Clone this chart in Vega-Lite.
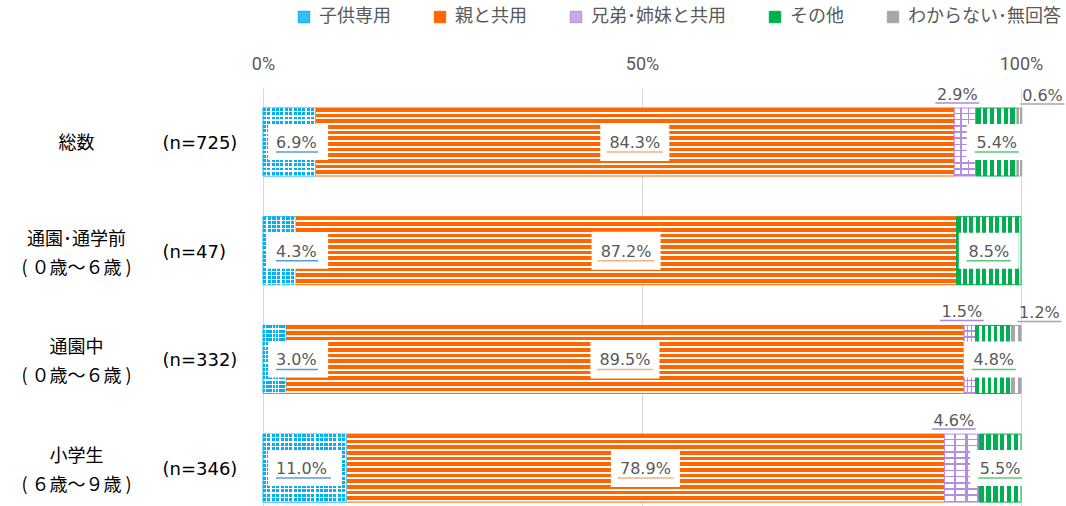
{
  "$schema": "https://vega.github.io/schema/vega-lite/v6.json",
  "width": 758,
  "height": 418,
  "autosize": {"type": "none"},
  "padding": {"left": 263, "top": 88, "right": 45, "bottom": 0},
  "background": "white",
  "config": {"view": {"stroke": null}, "axis": {"title": null}},
  "data": {"values": [
    {"cat": "総数|(n=725)", "series": "子供専用", "order": 1, "value": 0.069},
    {"cat": "総数|(n=725)", "series": "親と共用", "order": 2, "value": 0.843},
    {"cat": "総数|(n=725)", "series": "兄弟･姉妹と共用", "order": 3, "value": 0.029},
    {"cat": "総数|(n=725)", "series": "その他", "order": 4, "value": 0.054},
    {"cat": "総数|(n=725)", "series": "わからない･無回答", "order": 5, "value": 0.006},
    {"cat": "通園･通学前/(  ０歳～６歳  )|(n=47)", "series": "子供専用", "order": 1, "value": 0.043},
    {"cat": "通園･通学前/(  ０歳～６歳  )|(n=47)", "series": "親と共用", "order": 2, "value": 0.872},
    {"cat": "通園･通学前/(  ０歳～６歳  )|(n=47)", "series": "その他", "order": 4, "value": 0.085},
    {"cat": "通園中/(  ０歳～６歳  )|(n=332)", "series": "子供専用", "order": 1, "value": 0.030},
    {"cat": "通園中/(  ０歳～６歳  )|(n=332)", "series": "親と共用", "order": 2, "value": 0.895},
    {"cat": "通園中/(  ０歳～６歳  )|(n=332)", "series": "兄弟･姉妹と共用", "order": 3, "value": 0.015},
    {"cat": "通園中/(  ０歳～６歳  )|(n=332)", "series": "その他", "order": 4, "value": 0.048},
    {"cat": "通園中/(  ０歳～６歳  )|(n=332)", "series": "わからない･無回答", "order": 5, "value": 0.012},
    {"cat": "小学生/(  ６歳～９歳  )|(n=346)", "series": "子供専用", "order": 1, "value": 0.110},
    {"cat": "小学生/(  ６歳～９歳  )|(n=346)", "series": "親と共用", "order": 2, "value": 0.789},
    {"cat": "小学生/(  ６歳～９歳  )|(n=346)", "series": "兄弟･姉妹と共用", "order": 3, "value": 0.046},
    {"cat": "小学生/(  ６歳～９歳  )|(n=346)", "series": "その他", "order": 4, "value": 0.055}
  ]},
  "transform": [
    {"stack": "value", "groupby": ["cat"], "sort": [{"field": "order", "order": "ascending"}], "as": ["x0", "x1"]},
    {"calculate": "(datum.x0 + datum.x1) / 2", "as": "xm"}
  ],
  "encoding": {
    "y": {"field": "cat", "type": "nominal", "sort": ["総数|(n=725)", "通園･通学前/(  ０歳～６歳  )|(n=47)", "通園中/(  ０歳～６歳  )|(n=332)", "小学生/(  ６歳～９歳  )|(n=346)"], "axis": null,
      "scale": {"paddingInner": 0.3744, "paddingOuter": 0.11, "align": 0.837}}
  },
  "layer": [
    {
      "mark": {"type": "bar"},
      "encoding": {
        "x": {"field": "x0", "type": "quantitative", "scale": {"domain": [0, 1], "nice": false},
          "axis": {"orient": "top", "values": [0, 0.5, 1], "format": ".0%", "grid": true, "gridColor": "#d9d9d9", "gridWidth": 1, "domain": false, "ticks": false, "labelPadding": 15, "labelFont": "Roboto", "labelFontSize": 18, "labelColor": "#595959", "labelFlush": false}},
        "x2": {"field": "x1"},
        "y": {"field": "cat", "type": "nominal", "sort": ["総数|(n=725)", "通園･通学前/(  ０歳～６歳  )|(n=47)", "通園中/(  ０歳～６歳  )|(n=332)", "小学生/(  ６歳～９歳  )|(n=346)"],
          "scale": {"paddingInner": 0.3744, "paddingOuter": 0.11, "align": 0.837},
          "axis": {"orient": "left", "labelExpr": "split(datum.label, '|')[1]", "labelAlign": "left", "labelBaseline": "middle", "labelPadding": 101, "tickSize": 0, "ticks": false, "domain": false, "labelFont": "DejaVu Sans", "labelFontSize": 18, "labelColor": "#000000", "labelOffset": 2, "labelLimit": 0, "labelOverlap": false}},
        "fill": {"field": "series", "type": "nominal",
          "scale": {"domain": ["子供専用", "親と共用", "兄弟･姉妹と共用", "その他", "わからない･無回答"], "range": ["#33bff2", "#ff6600", "#c8a9ea", "#00b050", "#a6a6a6"]},
          "legend": {"orient": "none", "legendX": 32, "legendY": -80, "direction": "horizontal", "title": null, "symbolType": "square", "symbolSize": 130, "symbolStrokeWidth": 1, "labelFont": "Noto Sans CJK JP", "labelFontSize": 18, "labelColor": "#595959", "labelOffset": 6, "columnPadding": 40, "labelLimit": 0,
            "encode": {"symbols": {"update": {
              "fill": {"signal": "datum.value === '子供専用' ? {gradient: 'linear', x1: 0, y1: 0, x2: 0, y2: 1, stops: [{offset: 0, color: '#00b0f0'}, {offset: 0.25, color: '#00b0f0'}, {offset: 0.25, color: '#ffffff'}, {offset: 0.5, color: '#ffffff'}, {offset: 0.5, color: '#00b0f0'}, {offset: 0.75, color: '#00b0f0'}, {offset: 0.75, color: '#ffffff'}, {offset: 1, color: '#ffffff'}]} : datum.value === '親と共用' ? {gradient: 'linear', x1: 0, y1: 0, x2: 0, y2: 1, stops: [{offset: 0, color: '#ff6600'}, {offset: 0.4, color: '#ff6600'}, {offset: 0.4, color: '#ffffff'}, {offset: 0.6, color: '#ffffff'}, {offset: 0.6, color: '#ff6600'}, {offset: 1, color: '#ff6600'}]} : datum.value === '兄弟･姉妹と共用' ? {gradient: 'linear', x1: 0, y1: 0, x2: 0, y2: 1, stops: [{offset: 0, color: '#ffffff'}, {offset: 0.42, color: '#ffffff'}, {offset: 0.42, color: '#b58ee0'}, {offset: 0.58, color: '#b58ee0'}, {offset: 0.58, color: '#ffffff'}, {offset: 1, color: '#ffffff'}]} : datum.value === 'その他' ? {gradient: 'linear', x1: 0, y1: 0, x2: 1, y2: 0, stops: [{offset: 0, color: '#00b050'}, {offset: 0.4, color: '#00b050'}, {offset: 0.4, color: '#ffffff'}, {offset: 0.6, color: '#ffffff'}, {offset: 0.6, color: '#00b050'}, {offset: 1, color: '#00b050'}]} : {gradient: 'linear', x1: 0, y1: 0, x2: 1, y2: 0, stops: [{offset: 0, color: '#a6a6a6'}, {offset: 0.4, color: '#a6a6a6'}, {offset: 0.4, color: '#ffffff'}, {offset: 0.6, color: '#ffffff'}, {offset: 0.6, color: '#a6a6a6'}, {offset: 1, color: '#a6a6a6'}]}"},
              "stroke": {"signal": "datum.value === '子供専用' ? '#00b0f0' : datum.value === '親と共用' ? '#ff6600' : datum.value === '兄弟･姉妹と共用' ? '#b58ee0' : datum.value === 'その他' ? '#00b050' : '#a6a6a6'"},
              "strokeWidth": {"value": 1}
            }}}}}
      }
    },
    {
      "transform": [{"filter": "datum.series === '親と共用'"}],
      "mark": {"type": "bar", "stroke": "#ff6600", "strokeWidth": 1,
        "fill": {"gradient": "linear", "x1": 0, "y1": 0, "x2": 0, "y2": 1, "stops": [
          {"offset": 0, "color": "#ff6600"}, {"offset": 0.0542, "color": "#ff6600"}, {"offset": 0.0542, "color": "#ffffff"}, {"offset": 0.0833, "color": "#ffffff"},
          {"offset": 0.0833, "color": "#ff6600"}, {"offset": 0.1375, "color": "#ff6600"}, {"offset": 0.1375, "color": "#ffffff"}, {"offset": 0.1667, "color": "#ffffff"},
          {"offset": 0.1667, "color": "#ff6600"}, {"offset": 0.2208, "color": "#ff6600"}, {"offset": 0.2208, "color": "#ffffff"}, {"offset": 0.25, "color": "#ffffff"},
          {"offset": 0.25, "color": "#ff6600"}, {"offset": 0.3042, "color": "#ff6600"}, {"offset": 0.3042, "color": "#ffffff"}, {"offset": 0.3333, "color": "#ffffff"},
          {"offset": 0.3333, "color": "#ff6600"}, {"offset": 0.3875, "color": "#ff6600"}, {"offset": 0.3875, "color": "#ffffff"}, {"offset": 0.4167, "color": "#ffffff"},
          {"offset": 0.4167, "color": "#ff6600"}, {"offset": 0.4708, "color": "#ff6600"}, {"offset": 0.4708, "color": "#ffffff"}, {"offset": 0.5, "color": "#ffffff"},
          {"offset": 0.5, "color": "#ff6600"}, {"offset": 0.5542, "color": "#ff6600"}, {"offset": 0.5542, "color": "#ffffff"}, {"offset": 0.5833, "color": "#ffffff"},
          {"offset": 0.5833, "color": "#ff6600"}, {"offset": 0.6375, "color": "#ff6600"}, {"offset": 0.6375, "color": "#ffffff"}, {"offset": 0.6667, "color": "#ffffff"},
          {"offset": 0.6667, "color": "#ff6600"}, {"offset": 0.7208, "color": "#ff6600"}, {"offset": 0.7208, "color": "#ffffff"}, {"offset": 0.75, "color": "#ffffff"},
          {"offset": 0.75, "color": "#ff6600"}, {"offset": 0.8042, "color": "#ff6600"}, {"offset": 0.8042, "color": "#ffffff"}, {"offset": 0.8333, "color": "#ffffff"},
          {"offset": 0.8333, "color": "#ff6600"}, {"offset": 0.8875, "color": "#ff6600"}, {"offset": 0.8875, "color": "#ffffff"}, {"offset": 0.9167, "color": "#ffffff"},
          {"offset": 0.9167, "color": "#ff6600"}, {"offset": 0.9708, "color": "#ff6600"}, {"offset": 0.9708, "color": "#ffffff"}, {"offset": 1, "color": "#ffffff"}
        ]}},
      "encoding": {
        "x": {"field": "x0", "type": "quantitative"},
        "x2": {"field": "x1"},
        "y": {"field": "cat", "type": "nominal", "sort": ["総数|(n=725)", "通園･通学前/(  ０歳～６歳  )|(n=47)", "通園中/(  ０歳～６歳  )|(n=332)", "小学生/(  ６歳～９歳  )|(n=346)"],
          "scale": {"paddingInner": 0.3744, "paddingOuter": 0.11, "align": 0.837},
          "axis": {"orient": "left", "labelExpr": "split(split(datum.label, '|')[0], '/')", "labelAlign": "center", "labelBaseline": "middle", "labelPadding": 187, "tickSize": 0, "ticks": false, "domain": false, "labelFont": "Noto Sans CJK JP", "labelFontSize": 18, "labelColor": "#000000", "labelLineHeight": 29, "labelLimit": 0, "labelOverlap": false,
            "labelOffset": {"condition": {"test": "indexof(datum.value, '/') >= 0", "value": -11}, "value": 2}}}
      }
    },
    {
      "transform": [{"filter": "datum.series === '子供専用'"}],
      "mark": {"type": "bar", "stroke": "#00b0f0", "strokeWidth": 1,
        "fill": {"gradient": "linear", "x1": 0, "y1": 0, "x2": 0, "y2": 1, "stops": [
          {"offset": 0, "color": "#00b0f0"}, {"offset": 0.0438, "color": "#00b0f0"}, {"offset": 0.0438, "color": "#ffffff"}, {"offset": 0.0625, "color": "#ffffff"},
          {"offset": 0.0625, "color": "#00b0f0"}, {"offset": 0.1063, "color": "#00b0f0"}, {"offset": 0.1063, "color": "#ffffff"}, {"offset": 0.125, "color": "#ffffff"},
          {"offset": 0.125, "color": "#00b0f0"}, {"offset": 0.1688, "color": "#00b0f0"}, {"offset": 0.1688, "color": "#ffffff"}, {"offset": 0.1875, "color": "#ffffff"},
          {"offset": 0.1875, "color": "#00b0f0"}, {"offset": 0.2313, "color": "#00b0f0"}, {"offset": 0.2313, "color": "#ffffff"}, {"offset": 0.25, "color": "#ffffff"},
          {"offset": 0.25, "color": "#00b0f0"}, {"offset": 0.2938, "color": "#00b0f0"}, {"offset": 0.2938, "color": "#ffffff"}, {"offset": 0.3125, "color": "#ffffff"},
          {"offset": 0.3125, "color": "#00b0f0"}, {"offset": 0.3563, "color": "#00b0f0"}, {"offset": 0.3563, "color": "#ffffff"}, {"offset": 0.375, "color": "#ffffff"},
          {"offset": 0.375, "color": "#00b0f0"}, {"offset": 0.4188, "color": "#00b0f0"}, {"offset": 0.4188, "color": "#ffffff"}, {"offset": 0.4375, "color": "#ffffff"},
          {"offset": 0.4375, "color": "#00b0f0"}, {"offset": 0.4813, "color": "#00b0f0"}, {"offset": 0.4813, "color": "#ffffff"}, {"offset": 0.5, "color": "#ffffff"},
          {"offset": 0.5, "color": "#00b0f0"}, {"offset": 0.5438, "color": "#00b0f0"}, {"offset": 0.5438, "color": "#ffffff"}, {"offset": 0.5625, "color": "#ffffff"},
          {"offset": 0.5625, "color": "#00b0f0"}, {"offset": 0.6063, "color": "#00b0f0"}, {"offset": 0.6063, "color": "#ffffff"}, {"offset": 0.625, "color": "#ffffff"},
          {"offset": 0.625, "color": "#00b0f0"}, {"offset": 0.6688, "color": "#00b0f0"}, {"offset": 0.6688, "color": "#ffffff"}, {"offset": 0.6875, "color": "#ffffff"},
          {"offset": 0.6875, "color": "#00b0f0"}, {"offset": 0.7313, "color": "#00b0f0"}, {"offset": 0.7313, "color": "#ffffff"}, {"offset": 0.75, "color": "#ffffff"},
          {"offset": 0.75, "color": "#00b0f0"}, {"offset": 0.7938, "color": "#00b0f0"}, {"offset": 0.7938, "color": "#ffffff"}, {"offset": 0.8125, "color": "#ffffff"},
          {"offset": 0.8125, "color": "#00b0f0"}, {"offset": 0.8563, "color": "#00b0f0"}, {"offset": 0.8563, "color": "#ffffff"}, {"offset": 0.875, "color": "#ffffff"},
          {"offset": 0.875, "color": "#00b0f0"}, {"offset": 0.9188, "color": "#00b0f0"}, {"offset": 0.9188, "color": "#ffffff"}, {"offset": 0.9375, "color": "#ffffff"},
          {"offset": 0.9375, "color": "#00b0f0"}, {"offset": 0.9813, "color": "#00b0f0"}, {"offset": 0.9813, "color": "#ffffff"}, {"offset": 1, "color": "#ffffff"}
        ]}},
      "encoding": {"x": {"field": "x0", "type": "quantitative"}, "x2": {"field": "x1"}}
    },
    {
      "transform": [{"filter": "datum.series === '子供専用' && datum.value < 0.05"}],
      "mark": {"type": "bar", "strokeWidth": 0,
        "fill": {"gradient": "linear", "x1": 0, "y1": 0, "x2": 1, "y2": 0, "stops": [
          {"offset": 0, "color": "rgba(255,255,255,0)"}, {"offset": 0.1, "color": "rgba(255,255,255,0)"}, {"offset": 0.1, "color": "#ffffff"}, {"offset": 0.1429, "color": "#ffffff"},
          {"offset": 0.1429, "color": "rgba(255,255,255,0)"}, {"offset": 0.2429, "color": "rgba(255,255,255,0)"}, {"offset": 0.2429, "color": "#ffffff"}, {"offset": 0.2857, "color": "#ffffff"},
          {"offset": 0.2857, "color": "rgba(255,255,255,0)"}, {"offset": 0.3857, "color": "rgba(255,255,255,0)"}, {"offset": 0.3857, "color": "#ffffff"}, {"offset": 0.4286, "color": "#ffffff"},
          {"offset": 0.4286, "color": "rgba(255,255,255,0)"}, {"offset": 0.5286, "color": "rgba(255,255,255,0)"}, {"offset": 0.5286, "color": "#ffffff"}, {"offset": 0.5714, "color": "#ffffff"},
          {"offset": 0.5714, "color": "rgba(255,255,255,0)"}, {"offset": 0.6714, "color": "rgba(255,255,255,0)"}, {"offset": 0.6714, "color": "#ffffff"}, {"offset": 0.7143, "color": "#ffffff"},
          {"offset": 0.7143, "color": "rgba(255,255,255,0)"}, {"offset": 0.8143, "color": "rgba(255,255,255,0)"}, {"offset": 0.8143, "color": "#ffffff"}, {"offset": 0.8571, "color": "#ffffff"},
          {"offset": 0.8571, "color": "rgba(255,255,255,0)"}, {"offset": 0.9571, "color": "rgba(255,255,255,0)"}, {"offset": 0.9571, "color": "#ffffff"}, {"offset": 1, "color": "#ffffff"}
        ]}},
      "encoding": {"x": {"field": "x0", "type": "quantitative"}, "x2": {"field": "x1"}}
    },
    {
      "transform": [{"filter": "datum.series === '子供専用' && datum.value >= 0.05 && datum.value < 0.1"}],
      "mark": {"type": "bar", "strokeWidth": 0,
        "fill": {"gradient": "linear", "x1": 0, "y1": 0, "x2": 1, "y2": 0, "stops": [
          {"offset": 0, "color": "rgba(255,255,255,0)"}, {"offset": 0.0583, "color": "rgba(255,255,255,0)"}, {"offset": 0.0583, "color": "#ffffff"}, {"offset": 0.0833, "color": "#ffffff"},
          {"offset": 0.0833, "color": "rgba(255,255,255,0)"}, {"offset": 0.1417, "color": "rgba(255,255,255,0)"}, {"offset": 0.1417, "color": "#ffffff"}, {"offset": 0.1667, "color": "#ffffff"},
          {"offset": 0.1667, "color": "rgba(255,255,255,0)"}, {"offset": 0.225, "color": "rgba(255,255,255,0)"}, {"offset": 0.225, "color": "#ffffff"}, {"offset": 0.25, "color": "#ffffff"},
          {"offset": 0.25, "color": "rgba(255,255,255,0)"}, {"offset": 0.3083, "color": "rgba(255,255,255,0)"}, {"offset": 0.3083, "color": "#ffffff"}, {"offset": 0.3333, "color": "#ffffff"},
          {"offset": 0.3333, "color": "rgba(255,255,255,0)"}, {"offset": 0.3917, "color": "rgba(255,255,255,0)"}, {"offset": 0.3917, "color": "#ffffff"}, {"offset": 0.4167, "color": "#ffffff"},
          {"offset": 0.4167, "color": "rgba(255,255,255,0)"}, {"offset": 0.475, "color": "rgba(255,255,255,0)"}, {"offset": 0.475, "color": "#ffffff"}, {"offset": 0.5, "color": "#ffffff"},
          {"offset": 0.5, "color": "rgba(255,255,255,0)"}, {"offset": 0.5583, "color": "rgba(255,255,255,0)"}, {"offset": 0.5583, "color": "#ffffff"}, {"offset": 0.5833, "color": "#ffffff"},
          {"offset": 0.5833, "color": "rgba(255,255,255,0)"}, {"offset": 0.6417, "color": "rgba(255,255,255,0)"}, {"offset": 0.6417, "color": "#ffffff"}, {"offset": 0.6667, "color": "#ffffff"},
          {"offset": 0.6667, "color": "rgba(255,255,255,0)"}, {"offset": 0.725, "color": "rgba(255,255,255,0)"}, {"offset": 0.725, "color": "#ffffff"}, {"offset": 0.75, "color": "#ffffff"},
          {"offset": 0.75, "color": "rgba(255,255,255,0)"}, {"offset": 0.8083, "color": "rgba(255,255,255,0)"}, {"offset": 0.8083, "color": "#ffffff"}, {"offset": 0.8333, "color": "#ffffff"},
          {"offset": 0.8333, "color": "rgba(255,255,255,0)"}, {"offset": 0.8917, "color": "rgba(255,255,255,0)"}, {"offset": 0.8917, "color": "#ffffff"}, {"offset": 0.9167, "color": "#ffffff"},
          {"offset": 0.9167, "color": "rgba(255,255,255,0)"}, {"offset": 0.975, "color": "rgba(255,255,255,0)"}, {"offset": 0.975, "color": "#ffffff"}, {"offset": 1, "color": "#ffffff"}
        ]}},
      "encoding": {"x": {"field": "x0", "type": "quantitative"}, "x2": {"field": "x1"}}
    },
    {
      "transform": [{"filter": "datum.series === '子供専用' && datum.value >= 0.1"}],
      "mark": {"type": "bar", "strokeWidth": 0,
        "fill": {"gradient": "linear", "x1": 0, "y1": 0, "x2": 1, "y2": 0, "stops": [
          {"offset": 0, "color": "rgba(255,255,255,0)"}, {"offset": 0.0368, "color": "rgba(255,255,255,0)"}, {"offset": 0.0368, "color": "#ffffff"}, {"offset": 0.0526, "color": "#ffffff"},
          {"offset": 0.0526, "color": "rgba(255,255,255,0)"}, {"offset": 0.0895, "color": "rgba(255,255,255,0)"}, {"offset": 0.0895, "color": "#ffffff"}, {"offset": 0.1053, "color": "#ffffff"},
          {"offset": 0.1053, "color": "rgba(255,255,255,0)"}, {"offset": 0.1421, "color": "rgba(255,255,255,0)"}, {"offset": 0.1421, "color": "#ffffff"}, {"offset": 0.1579, "color": "#ffffff"},
          {"offset": 0.1579, "color": "rgba(255,255,255,0)"}, {"offset": 0.1947, "color": "rgba(255,255,255,0)"}, {"offset": 0.1947, "color": "#ffffff"}, {"offset": 0.2105, "color": "#ffffff"},
          {"offset": 0.2105, "color": "rgba(255,255,255,0)"}, {"offset": 0.2474, "color": "rgba(255,255,255,0)"}, {"offset": 0.2474, "color": "#ffffff"}, {"offset": 0.2632, "color": "#ffffff"},
          {"offset": 0.2632, "color": "rgba(255,255,255,0)"}, {"offset": 0.3, "color": "rgba(255,255,255,0)"}, {"offset": 0.3, "color": "#ffffff"}, {"offset": 0.3158, "color": "#ffffff"},
          {"offset": 0.3158, "color": "rgba(255,255,255,0)"}, {"offset": 0.3526, "color": "rgba(255,255,255,0)"}, {"offset": 0.3526, "color": "#ffffff"}, {"offset": 0.3684, "color": "#ffffff"},
          {"offset": 0.3684, "color": "rgba(255,255,255,0)"}, {"offset": 0.4053, "color": "rgba(255,255,255,0)"}, {"offset": 0.4053, "color": "#ffffff"}, {"offset": 0.4211, "color": "#ffffff"},
          {"offset": 0.4211, "color": "rgba(255,255,255,0)"}, {"offset": 0.4579, "color": "rgba(255,255,255,0)"}, {"offset": 0.4579, "color": "#ffffff"}, {"offset": 0.4737, "color": "#ffffff"},
          {"offset": 0.4737, "color": "rgba(255,255,255,0)"}, {"offset": 0.5105, "color": "rgba(255,255,255,0)"}, {"offset": 0.5105, "color": "#ffffff"}, {"offset": 0.5263, "color": "#ffffff"},
          {"offset": 0.5263, "color": "rgba(255,255,255,0)"}, {"offset": 0.5632, "color": "rgba(255,255,255,0)"}, {"offset": 0.5632, "color": "#ffffff"}, {"offset": 0.5789, "color": "#ffffff"},
          {"offset": 0.5789, "color": "rgba(255,255,255,0)"}, {"offset": 0.6158, "color": "rgba(255,255,255,0)"}, {"offset": 0.6158, "color": "#ffffff"}, {"offset": 0.6316, "color": "#ffffff"},
          {"offset": 0.6316, "color": "rgba(255,255,255,0)"}, {"offset": 0.6684, "color": "rgba(255,255,255,0)"}, {"offset": 0.6684, "color": "#ffffff"}, {"offset": 0.6842, "color": "#ffffff"},
          {"offset": 0.6842, "color": "rgba(255,255,255,0)"}, {"offset": 0.7211, "color": "rgba(255,255,255,0)"}, {"offset": 0.7211, "color": "#ffffff"}, {"offset": 0.7368, "color": "#ffffff"},
          {"offset": 0.7368, "color": "rgba(255,255,255,0)"}, {"offset": 0.7737, "color": "rgba(255,255,255,0)"}, {"offset": 0.7737, "color": "#ffffff"}, {"offset": 0.7895, "color": "#ffffff"},
          {"offset": 0.7895, "color": "rgba(255,255,255,0)"}, {"offset": 0.8263, "color": "rgba(255,255,255,0)"}, {"offset": 0.8263, "color": "#ffffff"}, {"offset": 0.8421, "color": "#ffffff"},
          {"offset": 0.8421, "color": "rgba(255,255,255,0)"}, {"offset": 0.8789, "color": "rgba(255,255,255,0)"}, {"offset": 0.8789, "color": "#ffffff"}, {"offset": 0.8947, "color": "#ffffff"},
          {"offset": 0.8947, "color": "rgba(255,255,255,0)"}, {"offset": 0.9316, "color": "rgba(255,255,255,0)"}, {"offset": 0.9316, "color": "#ffffff"}, {"offset": 0.9474, "color": "#ffffff"},
          {"offset": 0.9474, "color": "rgba(255,255,255,0)"}, {"offset": 0.9842, "color": "rgba(255,255,255,0)"}, {"offset": 0.9842, "color": "#ffffff"}, {"offset": 1, "color": "#ffffff"}
        ]}},
      "encoding": {"x": {"field": "x0", "type": "quantitative"}, "x2": {"field": "x1"}}
    },
    {
      "transform": [{"filter": "datum.series === '兄弟･姉妹と共用'"}],
      "mark": {"type": "bar", "stroke": "#b58ee0", "strokeWidth": 1,
        "fill": {"gradient": "linear", "x1": 0, "y1": 0, "x2": 0, "y2": 1, "stops": [
          {"offset": 0, "color": "#ffffff"}, {"offset": 0.0682, "color": "#ffffff"}, {"offset": 0.0682, "color": "#b58ee0"}, {"offset": 0.0909, "color": "#b58ee0"},
          {"offset": 0.0909, "color": "#ffffff"}, {"offset": 0.1591, "color": "#ffffff"}, {"offset": 0.1591, "color": "#b58ee0"}, {"offset": 0.1818, "color": "#b58ee0"},
          {"offset": 0.1818, "color": "#ffffff"}, {"offset": 0.25, "color": "#ffffff"}, {"offset": 0.25, "color": "#b58ee0"}, {"offset": 0.2727, "color": "#b58ee0"},
          {"offset": 0.2727, "color": "#ffffff"}, {"offset": 0.3409, "color": "#ffffff"}, {"offset": 0.3409, "color": "#b58ee0"}, {"offset": 0.3636, "color": "#b58ee0"},
          {"offset": 0.3636, "color": "#ffffff"}, {"offset": 0.4318, "color": "#ffffff"}, {"offset": 0.4318, "color": "#b58ee0"}, {"offset": 0.4545, "color": "#b58ee0"},
          {"offset": 0.4545, "color": "#ffffff"}, {"offset": 0.5227, "color": "#ffffff"}, {"offset": 0.5227, "color": "#b58ee0"}, {"offset": 0.5455, "color": "#b58ee0"},
          {"offset": 0.5455, "color": "#ffffff"}, {"offset": 0.6136, "color": "#ffffff"}, {"offset": 0.6136, "color": "#b58ee0"}, {"offset": 0.6364, "color": "#b58ee0"},
          {"offset": 0.6364, "color": "#ffffff"}, {"offset": 0.7045, "color": "#ffffff"}, {"offset": 0.7045, "color": "#b58ee0"}, {"offset": 0.7273, "color": "#b58ee0"},
          {"offset": 0.7273, "color": "#ffffff"}, {"offset": 0.7955, "color": "#ffffff"}, {"offset": 0.7955, "color": "#b58ee0"}, {"offset": 0.8182, "color": "#b58ee0"},
          {"offset": 0.8182, "color": "#ffffff"}, {"offset": 0.8864, "color": "#ffffff"}, {"offset": 0.8864, "color": "#b58ee0"}, {"offset": 0.9091, "color": "#b58ee0"},
          {"offset": 0.9091, "color": "#ffffff"}, {"offset": 0.9773, "color": "#ffffff"}, {"offset": 0.9773, "color": "#b58ee0"}, {"offset": 1, "color": "#b58ee0"}
        ]}},
      "encoding": {"x": {"field": "x0", "type": "quantitative"}, "x2": {"field": "x1"}}
    },
    {
      "transform": [{"filter": "datum.series === '兄弟･姉妹と共用'"}],
      "mark": {"type": "bar", "strokeWidth": 0,
        "fill": {"gradient": "linear", "x1": 0, "y1": 0, "x2": 1, "y2": 0, "stops": [
          {"offset": 0, "color": "rgba(255,255,255,0)"}, {"offset": 0.27, "color": "rgba(255,255,255,0)"}, {"offset": 0.27, "color": "#b58ee0"}, {"offset": 0.3333, "color": "#b58ee0"},
          {"offset": 0.3333, "color": "rgba(255,255,255,0)"}, {"offset": 0.6033, "color": "rgba(255,255,255,0)"}, {"offset": 0.6033, "color": "#b58ee0"}, {"offset": 0.6667, "color": "#b58ee0"},
          {"offset": 0.6667, "color": "rgba(255,255,255,0)"}, {"offset": 0.9367, "color": "rgba(255,255,255,0)"}, {"offset": 0.9367, "color": "#b58ee0"}, {"offset": 1, "color": "#b58ee0"}
        ]}},
      "encoding": {"x": {"field": "x0", "type": "quantitative"}, "x2": {"field": "x1"}}
    },
    {
      "transform": [{"filter": "datum.series === 'その他' && datum.value > 0.07"}],
      "mark": {"type": "bar", "stroke": "#00b050", "strokeWidth": 1,
        "fill": {"gradient": "linear", "x1": 0, "y1": 0, "x2": 1, "y2": 0, "stops": [
          {"offset": 0, "color": "#00b050"}, {"offset": 0.062, "color": "#00b050"}, {"offset": 0.062, "color": "#ffffff"}, {"offset": 0.1, "color": "#ffffff"},
          {"offset": 0.1, "color": "#00b050"}, {"offset": 0.162, "color": "#00b050"}, {"offset": 0.162, "color": "#ffffff"}, {"offset": 0.2, "color": "#ffffff"},
          {"offset": 0.2, "color": "#00b050"}, {"offset": 0.262, "color": "#00b050"}, {"offset": 0.262, "color": "#ffffff"}, {"offset": 0.3, "color": "#ffffff"},
          {"offset": 0.3, "color": "#00b050"}, {"offset": 0.362, "color": "#00b050"}, {"offset": 0.362, "color": "#ffffff"}, {"offset": 0.4, "color": "#ffffff"},
          {"offset": 0.4, "color": "#00b050"}, {"offset": 0.462, "color": "#00b050"}, {"offset": 0.462, "color": "#ffffff"}, {"offset": 0.5, "color": "#ffffff"},
          {"offset": 0.5, "color": "#00b050"}, {"offset": 0.562, "color": "#00b050"}, {"offset": 0.562, "color": "#ffffff"}, {"offset": 0.6, "color": "#ffffff"},
          {"offset": 0.6, "color": "#00b050"}, {"offset": 0.662, "color": "#00b050"}, {"offset": 0.662, "color": "#ffffff"}, {"offset": 0.7, "color": "#ffffff"},
          {"offset": 0.7, "color": "#00b050"}, {"offset": 0.762, "color": "#00b050"}, {"offset": 0.762, "color": "#ffffff"}, {"offset": 0.8, "color": "#ffffff"},
          {"offset": 0.8, "color": "#00b050"}, {"offset": 0.862, "color": "#00b050"}, {"offset": 0.862, "color": "#ffffff"}, {"offset": 0.9, "color": "#ffffff"},
          {"offset": 0.9, "color": "#00b050"}, {"offset": 0.962, "color": "#00b050"}, {"offset": 0.962, "color": "#ffffff"}, {"offset": 1, "color": "#ffffff"}
        ]}},
      "encoding": {"x": {"field": "x0", "type": "quantitative"}, "x2": {"field": "x1"}}
    },
    {
      "transform": [{"filter": "datum.series === 'その他' && datum.value <= 0.07"}],
      "mark": {"type": "bar", "stroke": "#00b050", "strokeWidth": 1,
        "fill": {"gradient": "linear", "x1": 0, "y1": 0, "x2": 1, "y2": 0, "stops": [
          {"offset": 0, "color": "#00b050"}, {"offset": 0.1033, "color": "#00b050"}, {"offset": 0.1033, "color": "#ffffff"}, {"offset": 0.1667, "color": "#ffffff"},
          {"offset": 0.1667, "color": "#00b050"}, {"offset": 0.27, "color": "#00b050"}, {"offset": 0.27, "color": "#ffffff"}, {"offset": 0.3333, "color": "#ffffff"},
          {"offset": 0.3333, "color": "#00b050"}, {"offset": 0.4367, "color": "#00b050"}, {"offset": 0.4367, "color": "#ffffff"}, {"offset": 0.5, "color": "#ffffff"},
          {"offset": 0.5, "color": "#00b050"}, {"offset": 0.6033, "color": "#00b050"}, {"offset": 0.6033, "color": "#ffffff"}, {"offset": 0.6667, "color": "#ffffff"},
          {"offset": 0.6667, "color": "#00b050"}, {"offset": 0.77, "color": "#00b050"}, {"offset": 0.77, "color": "#ffffff"}, {"offset": 0.8333, "color": "#ffffff"},
          {"offset": 0.8333, "color": "#00b050"}, {"offset": 0.9367, "color": "#00b050"}, {"offset": 0.9367, "color": "#ffffff"}, {"offset": 1, "color": "#ffffff"}
        ]}},
      "encoding": {"x": {"field": "x0", "type": "quantitative"}, "x2": {"field": "x1"}}
    },
    {
      "transform": [{"filter": "datum.series === 'わからない･無回答'"}],
      "mark": {"type": "bar", "stroke": "#a6a6a6", "strokeWidth": 1,
        "fill": {"gradient": "linear", "x1": 0, "y1": 0, "x2": 1, "y2": 0, "stops": [
          {"offset": 0, "color": "#a6a6a6"}, {"offset": 0.38, "color": "#a6a6a6"}, {"offset": 0.38, "color": "#ffffff"}, {"offset": 0.62, "color": "#ffffff"},
          {"offset": 0.62, "color": "#a6a6a6"}, {"offset": 1, "color": "#a6a6a6"}
        ]}},
      "encoding": {"x": {"field": "x0", "type": "quantitative"}, "x2": {"field": "x1"}}
    },
    {
      "transform": [{"filter": "datum.series === '子供専用' && datum.value < 0.1"}],
      "mark": {"type": "point", "shape": "M0.17,-0.6H2.17V0.6H0.17Z", "size": 3600, "filled": true, "fill": "#ffffff", "strokeWidth": 0, "opacity": 1},
      "encoding": {"x": {"field": "x0", "type": "quantitative"}}
    },
    {
      "transform": [{"filter": "datum.series === '子供専用' && datum.value >= 0.1"}],
      "mark": {"type": "point", "shape": "M0.17,-0.6H2.63V0.6H0.17Z", "size": 3600, "filled": true, "fill": "#ffffff", "strokeWidth": 0, "opacity": 1},
      "encoding": {"x": {"field": "x0", "type": "quantitative"}}
    },
    {
      "transform": [{"filter": "datum.series === '親と共用'"}],
      "mark": {"type": "point", "shape": "M-1,-0.55H1V0.55H-1Z", "size": 4761, "filled": true, "fill": "#ffffff", "strokeWidth": 0, "opacity": 1},
      "encoding": {"x": {"field": "xm", "type": "quantitative"}}
    },
    {
      "transform": [{"filter": "datum.series === 'その他'"}],
      "mark": {"type": "point", "shape": "M-1,-0.6H1V0.6H-1Z", "size": 3600, "filled": true, "fill": "#ffffff", "strokeWidth": 0, "opacity": 1},
      "encoding": {"x": {"field": "xm", "type": "quantitative"}}
    },
    {
      "transform": [{"filter": "datum.series === '子供専用' && datum.value < 0.1"}],
      "mark": {"type": "rule", "color": "#5b9bd5", "strokeWidth": 1.5, "xOffset": 13, "x2Offset": 55, "yOffset": 10},
      "encoding": {"x": {"field": "x0", "type": "quantitative"}, "x2": {"field": "x0"}}
    },
    {
      "transform": [{"filter": "datum.series === '子供専用' && datum.value >= 0.1"}],
      "mark": {"type": "rule", "color": "#5b9bd5", "strokeWidth": 1.5, "xOffset": 13, "x2Offset": 68, "yOffset": 10},
      "encoding": {"x": {"field": "x0", "type": "quantitative"}, "x2": {"field": "x0"}}
    },
    {
      "transform": [{"filter": "datum.series === '親と共用'"}],
      "mark": {"type": "rule", "color": "#f4b183", "strokeWidth": 1.5, "xOffset": -28, "x2Offset": 28, "yOffset": 10},
      "encoding": {"x": {"field": "xm", "type": "quantitative"}, "x2": {"field": "xm"}}
    },
    {
      "transform": [{"filter": "datum.series === 'その他'"}],
      "mark": {"type": "rule", "color": "#5cc67e", "strokeWidth": 1.5, "xOffset": -22, "x2Offset": 22, "yOffset": 10},
      "encoding": {"x": {"field": "xm", "type": "quantitative"}, "x2": {"field": "xm"}}
    },
    {
      "transform": [{"filter": "datum.series === '兄弟･姉妹と共用'"}],
      "mark": {"type": "rule", "color": "#a98bdc", "strokeWidth": 1.5, "xOffset": -30, "x2Offset": 14, "yOffset": -5},
      "encoding": {"x": {"field": "xm", "type": "quantitative"}, "x2": {"field": "xm"},
        "y": {"field": "cat", "type": "nominal", "sort": ["総数|(n=725)", "通園･通学前/(  ０歳～６歳  )|(n=47)", "通園中/(  ０歳～６歳  )|(n=332)", "小学生/(  ６歳～９歳  )|(n=346)"], "bandPosition": 0, "axis": null,
          "scale": {"paddingInner": 0.3744, "paddingOuter": 0.11, "align": 0.837}}}
    },
    {
      "transform": [{"filter": "datum.series === 'わからない･無回答'"}],
      "mark": {"type": "rule", "color": "#a6a6a6", "strokeWidth": 1.5, "xOffset": 1, "x2Offset": 45, "yOffset": -4},
      "encoding": {"x": {"field": "xm", "type": "quantitative"}, "x2": {"field": "xm"},
        "y": {"field": "cat", "type": "nominal", "sort": ["総数|(n=725)", "通園･通学前/(  ０歳～６歳  )|(n=47)", "通園中/(  ０歳～６歳  )|(n=332)", "小学生/(  ６歳～９歳  )|(n=346)"], "bandPosition": 0, "axis": null,
          "scale": {"paddingInner": 0.3744, "paddingOuter": 0.11, "align": 0.837}}}
    },
    {
      "transform": [{"filter": "datum.series === '子供専用'"}],
      "mark": {"type": "text", "font": "DejaVu Sans", "fontSize": 16, "color": "#595959", "align": "left", "baseline": "middle", "dx": 13, "dy": 1},
      "encoding": {"x": {"field": "x0", "type": "quantitative"}, "text": {"field": "value", "type": "quantitative", "format": ".1%"}}
    },
    {
      "transform": [{"filter": "datum.series === '親と共用' || datum.series === 'その他'"}],
      "mark": {"type": "text", "font": "DejaVu Sans", "fontSize": 16, "color": "#595959", "align": "center", "baseline": "middle", "dy": 1},
      "encoding": {"x": {"field": "xm", "type": "quantitative"}, "text": {"field": "value", "type": "quantitative", "format": ".1%"}}
    },
    {
      "transform": [{"filter": "datum.series === '兄弟･姉妹と共用'"}],
      "mark": {"type": "text", "font": "DejaVu Sans", "fontSize": 16, "color": "#595959", "align": "center", "baseline": "middle", "dx": -8, "dy": -13},
      "encoding": {"x": {"field": "xm", "type": "quantitative"}, "text": {"field": "value", "type": "quantitative", "format": ".1%"},
        "y": {"field": "cat", "type": "nominal", "sort": ["総数|(n=725)", "通園･通学前/(  ０歳～６歳  )|(n=47)", "通園中/(  ０歳～６歳  )|(n=332)", "小学生/(  ６歳～９歳  )|(n=346)"], "bandPosition": 0, "axis": null,
          "scale": {"paddingInner": 0.3744, "paddingOuter": 0.11, "align": 0.837}}}
    },
    {
      "transform": [{"filter": "datum.series === 'わからない･無回答'"}],
      "mark": {"type": "text", "font": "DejaVu Sans", "fontSize": 16, "color": "#595959", "align": "center", "baseline": "middle", "dx": 23, "dy": -12},
      "encoding": {"x": {"field": "xm", "type": "quantitative"}, "text": {"field": "value", "type": "quantitative", "format": ".1%"},
        "y": {"field": "cat", "type": "nominal", "sort": ["総数|(n=725)", "通園･通学前/(  ０歳～６歳  )|(n=47)", "通園中/(  ０歳～６歳  )|(n=332)", "小学生/(  ６歳～９歳  )|(n=346)"], "bandPosition": 0, "axis": null,
          "scale": {"paddingInner": 0.3744, "paddingOuter": 0.11, "align": 0.837}}}
    }
  ],
  "resolve": {"axis": {"y": "independent"}}
}
